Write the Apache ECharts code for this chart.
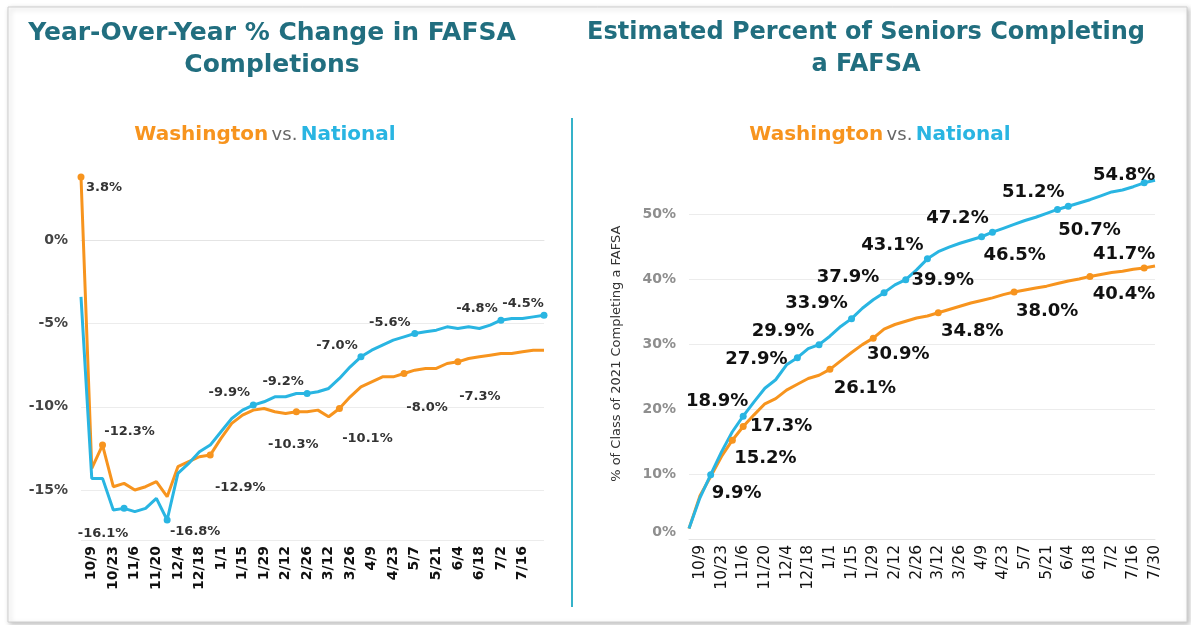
<!DOCTYPE html>
<html>
<head>
<meta charset="utf-8">
<script src="https://cdn.jsdelivr.net/npm/echarts@6/dist/echarts.min.js"></script>
<style>
html, body { margin: 0; padding: 0; background: #fff; }
#chart { width: 1191px; height: 625px; }
</style>
</head>
<body>
<div id="chart"></div>
<script>
// weekly snapshots, 10/2 .. 7/30
var weeks = ['10/2','10/9','10/16','10/23','10/30','11/6','11/13','11/20','11/27','12/4','12/11','12/18','12/25',
  '1/1','1/8','1/15','1/22','1/29','2/5','2/12','2/19','2/26','3/5','3/12','3/19','3/26','4/2','4/9','4/16','4/23','4/30',
  '5/7','5/14','5/21','5/28','6/4','6/11','6/18','6/25','7/2','7/9','7/16','7/23','7/30'];

// left: year-over-year % change
var yoyWashington = [3.8, -13.7, -12.3, -14.8, -14.6, -15.0, -14.8, -14.5, -15.4, -13.6, -13.3, -13.0, -12.9,
  -11.9, -11.0, -10.5, -10.2, -10.1, -10.3, -10.4, -10.3, -10.3, -10.2, -10.6, -10.1, -9.4, -8.8, -8.5, -8.2, -8.2, -8.0,
  -7.8, -7.7, -7.7, -7.4, -7.3, -7.1, -7.0, -6.9, -6.8, -6.8, -6.7, -6.6, -6.6];
var yoyNational = [-3.4, -14.3, -14.3, -16.2, -16.1, -16.3, -16.1, -15.5, -16.8, -14.0, -13.4, -12.7, -12.3,
  -11.5, -10.7, -10.2, -9.9, -9.7, -9.4, -9.4, -9.2, -9.2, -9.1, -8.9, -8.3, -7.6, -7.0, -6.6, -6.3, -6.0, -5.8,
  -5.6, -5.5, -5.4, -5.2, -5.3, -5.2, -5.3, -5.1, -4.8, -4.7, -4.7, -4.6, -4.5];

// right: estimated % of seniors completing
var pctWashington = [1.6, 6.6, 9.6, 12.7, 15.2, 17.3, 19.1, 20.8, 21.6, 22.9, 23.8, 24.7, 25.2,
  26.1, 27.4, 28.7, 29.9, 30.9, 32.3, 33.0, 33.5, 34.0, 34.3, 34.8, 35.3, 35.8, 36.3, 36.7, 37.1, 37.6, 38.0,
  38.3, 38.6, 38.9, 39.3, 39.7, 40.0, 40.4, 40.7, 41.0, 41.2, 41.5, 41.7, 42.0];
var pctNational = [1.6, 6.3, 9.9, 13.4, 16.5, 18.9, 21.1, 23.2, 24.5, 26.8, 27.9, 29.3, 29.9,
  31.2, 32.7, 33.9, 35.5, 36.8, 37.9, 39.1, 39.9, 41.4, 43.1, 44.2, 44.9, 45.5, 46.0, 46.5, 47.2, 47.8, 48.4,
  49.0, 49.5, 50.1, 50.7, 51.2, 51.7, 52.2, 52.8, 53.4, 53.7, 54.2, 54.8, 55.2];

// labelled points: [index, label offset x, offset y]
var yoyWaMarks = [[0, 23, 11], [2, 27, -13], [12, 30, 33], [20, -3, 33], [24, 28, 30], [30, 23, 34], [35, 22, 35]];
var yoyNatMarks = [[4, -21, 25], [8, 28, 12], [16, -24, -12], [21, -24, -12], [26, -24, -11], [31, -25, -11], [39, -24, -12], [43, -21, -12]];
var pctWaMarks = [[4, 33, 18], [5, 38, 0], [13, 35, 19], [17, 25, 16], [23, 34, 19], [30, 33, 19], [37, 34, 18], [42, -20, -14]];
var pctNatMarks = [[2, 26, 19], [5, -26, -15], [10, -41, 2], [12, -36, -13], [15, -35, -15], [18, -36, -15], [20, 37, 1],
  [22, -35, -14], [27, 33, 19], [28, -35, -14], [34, 32, 21], [35, -35, -14], [42, -20, -7]];

var ORANGE = '#f7941e';
var BLUE = '#29b5e2';
var TEAL = '#216e7f';
var FONT = 'DejaVu Sans';

function buildData(values, marks, labelStyle) {
  var data = values.map(function (v) { return { value: v }; });
  marks.forEach(function (m) {
    data[m[0]] = {
      value: values[m[0]],
      symbolSize: 7,
      label: Object.assign({ show: true, position: 'inside', offset: [m[1], m[2]],
        formatter: function (p) { return p.value.toFixed(1) + '%'; } }, labelStyle)
    };
  });
  return data;
}

var leftLabel = { fontFamily: FONT, fontSize: 13, fontWeight: 'bold', color: '#333' };
var rightLabel = { fontFamily: FONT, fontSize: 18, fontWeight: 'bold', color: '#111' };

function lineSeries(name, color, xi, data) {
  return {
    name: name, type: 'line', xAxisIndex: xi, yAxisIndex: xi,
    data: data, symbol: 'circle', symbolSize: 0, showSymbol: true, showAllSymbol: true,
    lineStyle: { color: color, width: 3 }, itemStyle: { color: color },
    label: { show: false }, animation: false, z: 3
  };
}

var subRich = {
  w: { fill: ORANGE, font: 'bold 20px "DejaVu Sans"' },
  v: { fill: '#666', font: '18px "DejaVu Sans"' },
  n: { fill: BLUE, font: 'bold 20px "DejaVu Sans"' }
};

var chart = echarts.init(document.getElementById('chart'));
chart.setOption({
  backgroundColor: '#fff',
  animation: false,
  grid: [
    { left: 81, top: 157, width: 463, height: 383 },
    { left: 689, top: 168.5, width: 466, height: 370.5 }
  ],
  xAxis: [
    { type: 'category', gridIndex: 0, data: weeks, boundaryGap: false,
      axisLine: { lineStyle: { color: '#e4e4e4' } }, axisTick: { show: false },
      axisLabel: { rotate: 90, margin: 6, fontFamily: FONT, fontSize: 14, fontWeight: 'bold', color: '#111',
        interval: function (i) { return i % 2 === 1 && i < 43; } } },
    { type: 'category', gridIndex: 1, data: weeks, boundaryGap: false,
      axisLine: { lineStyle: { color: '#e4e4e4' } }, axisTick: { show: false },
      axisLabel: { rotate: 90, margin: 6, fontFamily: FONT, fontSize: 15.5, color: '#111',
        interval: function (i) { return i % 2 === 1; } } }
  ],
  yAxis: [
    { type: 'value', gridIndex: 0, min: -18, max: 5, splitNumber: 5,
      axisLine: { show: false }, axisTick: { show: false },
      splitLine: { lineStyle: { color: '#ececec' }, showMaxLine: false },
      axisLabel: { margin: 13, showMinLabel: false, showMaxLabel: false, fontFamily: FONT, fontSize: 14,
        fontWeight: 'bold', color: '#444', formatter: function (v) { return v + '%'; } } },
    { type: 'value', gridIndex: 1, min: 0, max: 57, interval: 10,
      name: '% of Class of 2021 Completing a FAFSA', nameLocation: 'middle', nameGap: 66,
      nameTextStyle: { fontFamily: FONT, fontSize: 13, color: '#333' },
      axisLine: { show: false }, axisTick: { show: false },
      splitLine: { lineStyle: { color: '#ececec' }, showMaxLine: false },
      axisLabel: { margin: 13, showMaxLabel: false, verticalAlignMinLabel: 'bottom', fontFamily: FONT, fontSize: 14,
        fontWeight: 'bold', color: '#8e8e8e', formatter: function (v) { return v + '%'; } } }
  ],
  series: [
    lineSeries('Washington', ORANGE, 0, buildData(yoyWashington, yoyWaMarks, leftLabel)),
    lineSeries('National', BLUE, 0, buildData(yoyNational, yoyNatMarks, leftLabel)),
    lineSeries('Washington', ORANGE, 1, buildData(pctWashington, pctWaMarks, rightLabel)),
    lineSeries('National', BLUE, 1, buildData(pctNational, pctNatMarks, rightLabel))
  ],
  graphic: [
    { type: 'rect', z: -10, silent: true, shape: { x: 8, y: 7, width: 1179, height: 615 },
      style: { fill: '#fff', stroke: '#cfcfcf', lineWidth: 1, shadowBlur: 5, shadowOffsetX: 2, shadowOffsetY: 2,
        shadowColor: 'rgba(0,0,0,0.25)' } },
    { type: 'line', silent: true, shape: { x1: 572, y1: 118, x2: 572, y2: 607 },
      style: { stroke: '#35b2c9', lineWidth: 2 } },
    { type: 'text', silent: true, x: 272, y: 49,
      style: { text: 'Year-Over-Year % Change in FAFSA\nCompletions', fill: TEAL, font: 'bold 25px "DejaVu Sans"',
        lineHeight: 32, align: 'center', verticalAlign: 'middle' } },
    { type: 'text', silent: true, x: 866, y: 49,
      style: { text: 'Estimated Percent of Seniors Completing\na FAFSA', fill: TEAL, font: 'bold 24px "DejaVu Sans"',
        lineHeight: 32, align: 'center', verticalAlign: 'middle' } },
    { type: 'text', silent: true, x: 265, y: 135,
      style: { text: '{w|Washington} {v|vs.} {n|National}', align: 'center', verticalAlign: 'middle', rich: subRich } },
    { type: 'text', silent: true, x: 880, y: 135,
      style: { text: '{w|Washington} {v|vs.} {n|National}', align: 'center', verticalAlign: 'middle', rich: subRich } }
  ]
});
</script>
</body>
</html>
